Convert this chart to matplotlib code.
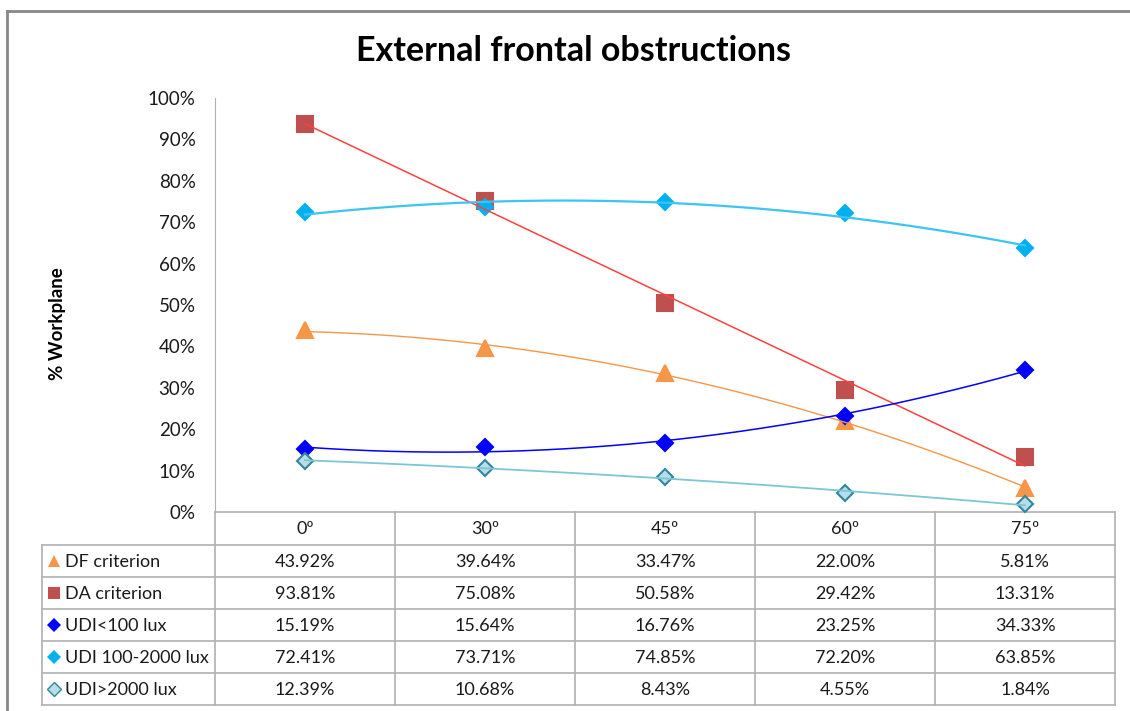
import numpy as np
import matplotlib
matplotlib.use('Agg')
import matplotlib.pyplot as plt

plt.rcParams['font.family'] = ['Lato', 'DejaVu Sans']

# obstruction angles and the share of workplane meeting each criterion (%)
angles = ['0º', '30º', '45º', '60º', '75º']
df_criterion = [43.92, 39.64, 33.47, 22.00, 5.81]
da_criterion = [93.81, 75.08, 50.58, 29.42, 13.31]
udi_low = [15.19, 15.64, 16.76, 23.25, 34.33]
udi_mid = [72.41, 73.71, 74.85, 72.20, 63.85]
udi_high = [12.39, 10.68, 8.43, 4.55, 1.84]

series_names = ['DF criterion', 'DA criterion', 'UDI<100 lux',
                'UDI 100-2000 lux', 'UDI>2000 lux']
series_values = [df_criterion, da_criterion, udi_low, udi_mid, udi_high]
# trendline order for each series (DA is a straight line, the rest quadratic)
trend_order = [2, 1, 2, 2, 2]

# marker, size, face, edge, trend colour, trend width
styles = [
    dict(marker='^', ms=11, mfc='#F79646', mec='#F79646', lc='#F79646', lw=1.0),
    dict(marker='s', ms=11, mfc='#C0504D', mec='#C0504D', lc='#FF4040', lw=1.1),
    dict(marker='D', ms=8.5, mfc='#0000FF', mec='#0000FF', lc='#0000FF', lw=1.1),
    dict(marker='D', ms=8.5, mfc='#00B0F0', mec='#00B0F0', lc='#3CC4F5', lw=1.6),
    dict(marker='D', ms=8, mfc='#B7DEE8', mec='#31859C', lc='#7CC6D6', lw=1.3),
]

W, H = 1130, 711
fig = plt.figure(figsize=(W / 100, H / 100), dpi=100)

# full-figure overlay in pixel units for border, title and data table
bg = fig.add_axes([0, 0, 1, 1])
bg.set_xlim(0, W)
bg.set_ylim(H, 0)
bg.axis('off')

x0, x1, y_top, y_zero = 215, 1115, 98, 512
ax = fig.add_axes([x0 / W, 1 - y_zero / H, (x1 - x0) / W, (y_zero - y_top) / H])
ax.set_xlim(-0.5, len(angles) - 0.5)
ax.set_ylim(0, 1)
for s in ['top', 'right', 'bottom']:
    ax.spines[s].set_visible(False)
ax.spines['left'].set_color('#B0B0B0')
ax.set_xticks([])
ax.set_yticks(np.arange(0, 1.01, 0.1))
ax.set_yticklabels([f'{int(round(v * 100))}%' for v in np.arange(0, 1.01, 0.1)],
                   fontsize=13.5, color='#1A1A1A')
ax.tick_params(axis='y', length=0, pad=14)
ax.patch.set_alpha(0)

xs = np.arange(len(angles))
xfine = np.linspace(0, len(angles) - 1, 200)
for vals, st, order in zip(series_values, styles, trend_order):
    y = np.array(vals) / 100
    ax.plot(xs, y, linestyle='none', marker=st['marker'], ms=st['ms'],
            mfc=st['mfc'], mec=st['mec'], mew=1.5, zorder=3, clip_on=False)
    coef = np.polyfit(xs, y, order)
    ax.plot(xfine, np.polyval(coef, xfine), color=st['lc'], lw=st['lw'],
            zorder=4, clip_on=False)

# chart border (top and left edges)
bg.plot([7, W], [11, 11], color='#888888', lw=2)
bg.plot([7, 7], [11, H], color='#888888', lw=2)

bg.text(573, 51, 'External frontal obstructions', ha='center', va='center',
        fontsize=24.5, fontweight='bold', color='black')
bg.text(58, 324, '% Workplane', ha='center', va='center', rotation=90,
        fontsize=13.5, fontweight='bold')

# data table under the plot
grid = '#B0B0B0'
row_y = [512, 545, 577, 609, 641, 673, 705]
col_x = [x0 + i * (x1 - x0) / len(angles) for i in range(len(angles) + 1)]
left = 42
bg.plot([x0, x1], [row_y[0], row_y[0]], color=grid, lw=1.2)
for yy in row_y[1:]:
    bg.plot([left, x1], [yy, yy], color=grid, lw=1.2)
for xx in col_x:
    bg.plot([xx, xx], [row_y[0], row_y[-1]], color=grid, lw=1.2)
bg.plot([left, left], [row_y[1], row_y[-1]], color=grid, lw=1.2)

for i, lab in enumerate(angles):
    cx = (col_x[i] + col_x[i + 1]) / 2
    bg.text(cx, (row_y[0] + row_y[1]) / 2 + 1, lab, ha='center', va='center',
            fontsize=13, color='#1A1A1A')

for r, (name, vals, st) in enumerate(zip(series_names, series_values, styles)):
    cy = (row_y[r + 1] + row_y[r + 2]) / 2 + 1
    ksize = {'^': 9, 's': 8.5, 'D': 7}[st['marker']]
    bg.plot([54], [cy - 1], marker=st['marker'], ms=ksize, mfc=st['mfc'],
            mec=st['mec'] if r == 4 else st['mfc'], mew=1 if r == 4 else 0,
            linestyle='none')
    bg.text(65, cy, name, ha='left', va='center', fontsize=13, color='#1A1A1A')
    for i, v in enumerate(vals):
        cx = (col_x[i] + col_x[i + 1]) / 2
        bg.text(cx, cy, f'{v:.2f}%', ha='center', va='center', fontsize=13,
                color='#1A1A1A')

fig.savefig('out.png', dpi=100)
